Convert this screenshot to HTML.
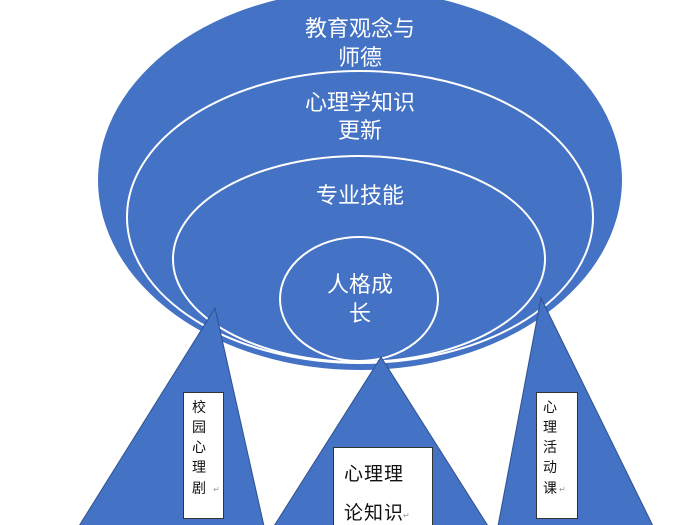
<!DOCTYPE html>
<html><head><meta charset="utf-8"><style>
html,body{margin:0;padding:0;background:#fff;}
svg{display:block;}
text{font-family:"Liberation Sans","Noto Sans CJK SC",sans-serif;}
</style></head><body>
<svg width="700" height="525" viewBox="0 0 700 525" xmlns="http://www.w3.org/2000/svg">
<ellipse cx="360" cy="180" rx="262" ry="190" fill="#4472C4"/>
<ellipse cx="360" cy="217" rx="233" ry="146" fill="#4472C4" stroke="#fff" stroke-width="2"/>
<ellipse cx="359" cy="259" rx="186" ry="103" fill="#4472C4" stroke="#fff" stroke-width="2"/>
<ellipse cx="359" cy="299" rx="79" ry="62" fill="#4472C4" stroke="#fff" stroke-width="2"/>
<g fill="#fff" font-size="22" text-anchor="middle">
<text x="360" y="36">教育观念与</text>
<text x="360" y="65">师德</text>
<text x="360" y="110">心理学知识</text>
<text x="360" y="138">更新</text>
<text x="360" y="203">专业技能</text>
<text x="360" y="292">人格成</text>
<text x="360" y="321">长</text>
</g>
<g fill="#4472C4" stroke="#2F528F" stroke-width="1">
<polygon points="215,308 264,526 79,526"/>
<polygon points="381,357 488,526 274,526"/>
<polygon points="541,298 653,526 498,526"/>
</g>
<g fill="#fff" stroke="#333" stroke-width="1">
<rect x="183.5" y="392.5" width="40" height="126"/>
<rect x="333.5" y="447.5" width="99" height="80"/>
<rect x="536.5" y="392.5" width="41" height="126"/>
</g>
<g fill="#111" font-size="14" text-anchor="middle">
<text x="199" y="412">校</text>
<text x="199" y="432">园</text>
<text x="199" y="452">心</text>
<text x="199" y="472">理</text>
<text x="199" y="493">剧</text>
<text x="550" y="412">心</text>
<text x="550" y="432">理</text>
<text x="550" y="452">活</text>
<text x="550" y="472">动</text>
<text x="550" y="493">课</text>
</g>
<g fill="#111" font-size="19">
<text x="344" y="480" letter-spacing="1">心理理</text>
<text x="344" y="519" letter-spacing="1">论知识</text>
</g>
<g fill="#999" font-size="8">
<text x="213" y="492">↵</text>
<text x="559" y="492">↵</text>
<text x="403" y="518">↵</text>
</g>
</svg>
</body></html>
